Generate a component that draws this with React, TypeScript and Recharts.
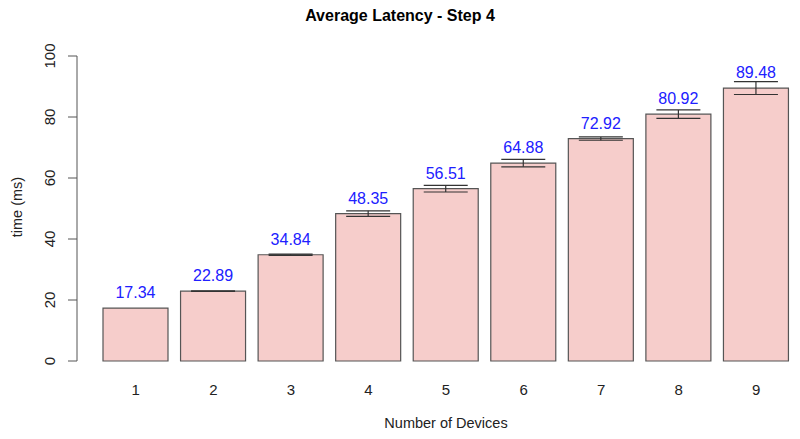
import { Bar, BarChart, ErrorBar, LabelList, XAxis, YAxis } from "recharts"

const devices = ["1", "2", "3", "4", "5", "6", "7", "8", "9"]
const latency = [17.34, 22.89, 34.84, 48.35, 56.51, 64.88, 72.92, 80.92, 89.48]
const latencyErr = [0, 0.1, 0.2, 0.9, 1.1, 1.2, 0.55, 1.4, 2.1]
const yTicks = [0, 20, 40, 60, 80, 100]

const data = devices.map((d, i) => ({ device: d, time: latency[i], err: latencyErr[i] }))

const FONT = "'Liberation Sans', Arial, sans-serif"

function YTick({ x, y, payload }: any) {
    const tx = x - 13
    return (
        <text x={tx} y={y} transform={`rotate(-90, ${tx}, ${y})`} textAnchor="middle" fontSize={15} fill="#222" fontFamily={FONT}>
            {payload.value}
        </text>
    )
}

function XTick({ x, y, payload }: any) {
    return (
        <text x={x} y={y + 34} textAnchor="middle" fontSize={15} fill="#222" fontFamily={FONT}>
            {payload.value}
        </text>
    )
}

function ValueLabel({ x, y, width, value }: any) {
    return (
        <text x={x + width / 2} y={y - 10} textAnchor="middle" fontSize={16} fill="#2020ff" fontFamily={FONT}>
            {Number(value).toFixed(2)}
        </text>
    )
}

export default function App() {
    return (
        <div style={{ position: "absolute", left: 0, top: 0, width: 800, height: 439, background: "#fff", fontFamily: FONT }}>
            <div style={{ position: "absolute", left: 0, width: 800, top: 7, textAlign: "center", fontSize: 16, fontWeight: "bold", color: "#000" }}>
                Average Latency - Step 4
            </div>
            <div style={{ position: "absolute", left: 97, width: 698, top: 415, textAlign: "center", fontSize: 14.5, color: "#222" }}>
                Number of Devices
            </div>
            <div style={{ position: "absolute", left: 17, top: 207, width: 0, height: 0 }}>
                <div style={{ position: "absolute", transform: "translate(-50%, -50%) rotate(-90deg)", whiteSpace: "nowrap", fontSize: 14.5, color: "#222" }}>
                    time (ms)
                </div>
            </div>
            <BarChart width={800} height={439} data={data} margin={{ top: 56, right: 5, bottom: 38, left: 0 }}>
                <XAxis
                    dataKey="device"
                    axisLine={false}
                    tickLine={false}
                    tickSize={0}
                    tickMargin={0}
                    height={40}
                    padding={{ left: 20, right: 0 }}
                    tick={<XTick />}
                    interval={0}
                />
                <YAxis
                    domain={[0, 100]}
                    ticks={yTicks}
                    width={77}
                    tickSize={9}
                    tickMargin={0}
                    stroke="#555"
                    tick={<YTick />}
                    interval={0}
                />
                <Bar dataKey="time" fill="#f6cdcb" stroke="#555" strokeWidth={1.2} barSize={65} isAnimationActive={false}>
                    <ErrorBar dataKey="err" width={22} stroke="#333" strokeWidth={1.2} direction="y" />
                    <LabelList dataKey="time" content={<ValueLabel />} />
                </Bar>
            </BarChart>
        </div>
    )
}
